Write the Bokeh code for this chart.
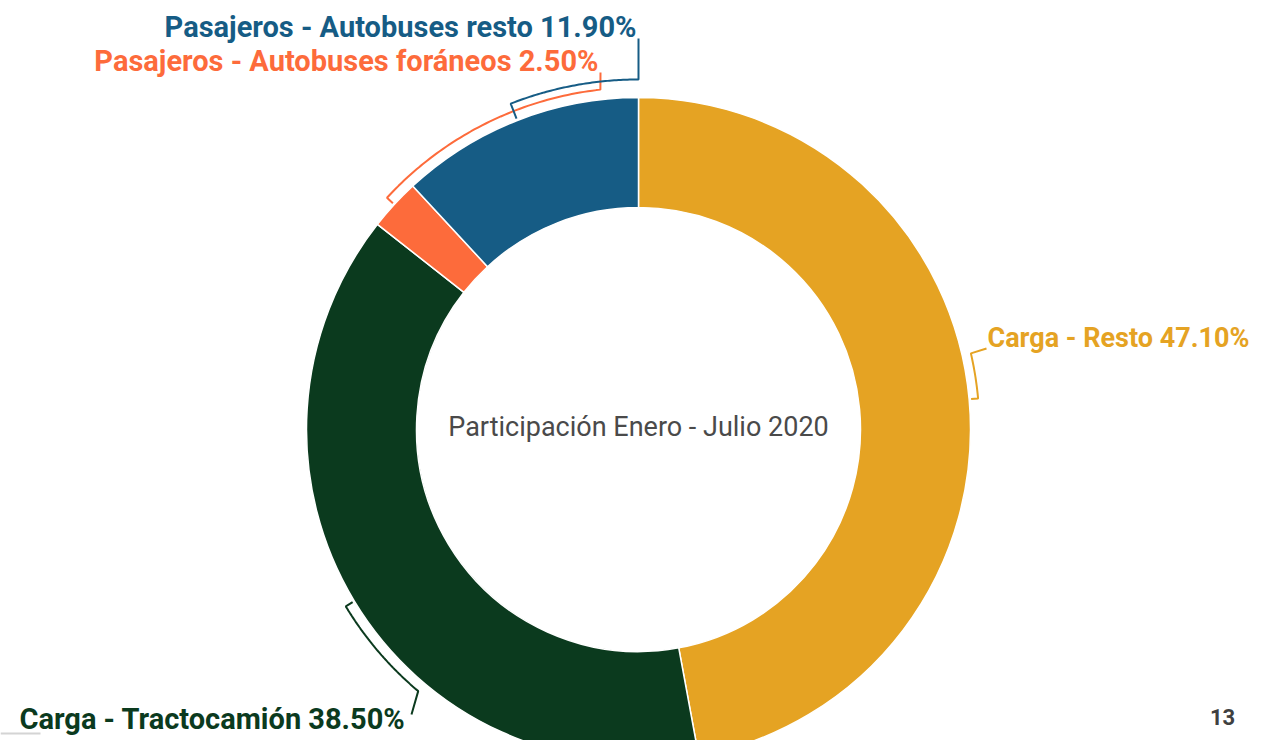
import numpy as np
from bokeh.plotting import figure
from bokeh.models import Range1d, ColumnDataSource
from bokeh.core.properties import value
from bokeh.embed import file_html
from bokeh.resources import INLINE

# ---- data ----
categories = ["Carga - Resto", "Carga - Tractocamión",
              "Pasajeros - Autobuses foráneos", "Pasajeros - Autobuses resto"]
shares = [47.10, 38.50, 2.50, 11.90]
colors = ["#E5A323", "#0B3A1E", "#FD6B3B", "#165C85"]
center_title = "Participación Enero - Julio 2020"
page_number = "13"

# ---- layout (screen px, y down) ----
W, H = 1258, 740
def sy(y):
    return H - y

CX, CY = 638, 429
R_IN, R_OUT = 222, 332
R_TICK = 334

p = figure(width=W, height=H, x_range=Range1d(0, W), y_range=Range1d(0, H),
           output_backend="svg", toolbar_location=None, min_border=0)
p.axis.visible = False
p.grid.visible = False
p.outline_line_color = None
p.background_fill_color = "white"
p.border_fill_color = "white"

# slices: clockwise from 12 o'clock
total = float(sum(shares))
deg = [s / total * 360.0 for s in shares]
starts = np.concatenate([[0.0], np.cumsum(deg)[:-1]])
ends = np.cumsum(deg)
mids = (starts + ends) / 2.0

src = ColumnDataSource(dict(
    x=[CX] * 4, y=[sy(CY)] * 4,
    start=[90.0 - a for a in starts], end=[90.0 - a for a in ends],
    color=colors))
p.annular_wedge(x="x", y="y", inner_radius=R_IN, outer_radius=R_OUT,
                start_angle="start", end_angle="end", start_angle_units="deg",
                end_angle_units="deg", direction="clock", fill_color="color",
                line_color="white", line_width=1.5, source=src)

# brackets
def pt(theta, r):
    t = np.radians(theta)
    return CX + r * np.sin(t), sy(CY) + r * np.cos(t)

bracket_r = [341, 342, 342, 350]
bracket_end = [77.1, 220.1, 353.6, 360.0]
connector = [(986, 348), (411, 714), (600, 72), (638, 38)]

xs_all, ys_all = [], []
for i in range(4):
    xs, ys = [], []
    x0, y0 = pt(mids[i], R_TICK)
    xs.append(x0); ys.append(y0)
    th = np.linspace(mids[i], bracket_end[i], 60)
    for t in th:
        x, y = pt(t, bracket_r[i])
        xs.append(x); ys.append(y)
    xs.append(connector[i][0]); ys.append(sy(connector[i][1]))
    xs_all.append(xs); ys_all.append(ys)
p.multi_line(xs=xs_all, ys=ys_all, line_color=colors, line_width=2)

# labels
labels = [f"{c} {s:.2f}%" for c, s in zip(categories, shares)]
lab_x = [987, 405, 598, 636]
lab_y = [337, 718, 60, 26]
lab_size = ["27px", "29px", "29px", "29px"]
lab_align = ["left", "right", "right", "right"]
for i in range(4):
    p.text(x=[lab_x[i]], y=[sy(lab_y[i])], text=[labels[i]],
           text_font=value("Roboto"), text_font_style="bold", text_font_size=lab_size[i],
           text_color=colors[i], text_align=lab_align[i], text_baseline="middle")

p.text(x=[CX], y=[sy(426)], text=[center_title], text_font=value("Roboto"),
       text_font_size="27px", text_color="#4a4a4a", text_align="center",
       text_baseline="middle")

# slide decorations
p.text(x=[1222], y=[sy(716)], text=[page_number], text_font=value("Roboto"),
       text_font_style="bold", text_font_size="22px", text_color="#404040",
       text_align="center", text_baseline="middle")
p.line(x=[0, 40], y=[sy(733), sy(733)], line_color="#d4d4d4", line_width=2)

open("out.html", "w").write(file_html(p, INLINE))
